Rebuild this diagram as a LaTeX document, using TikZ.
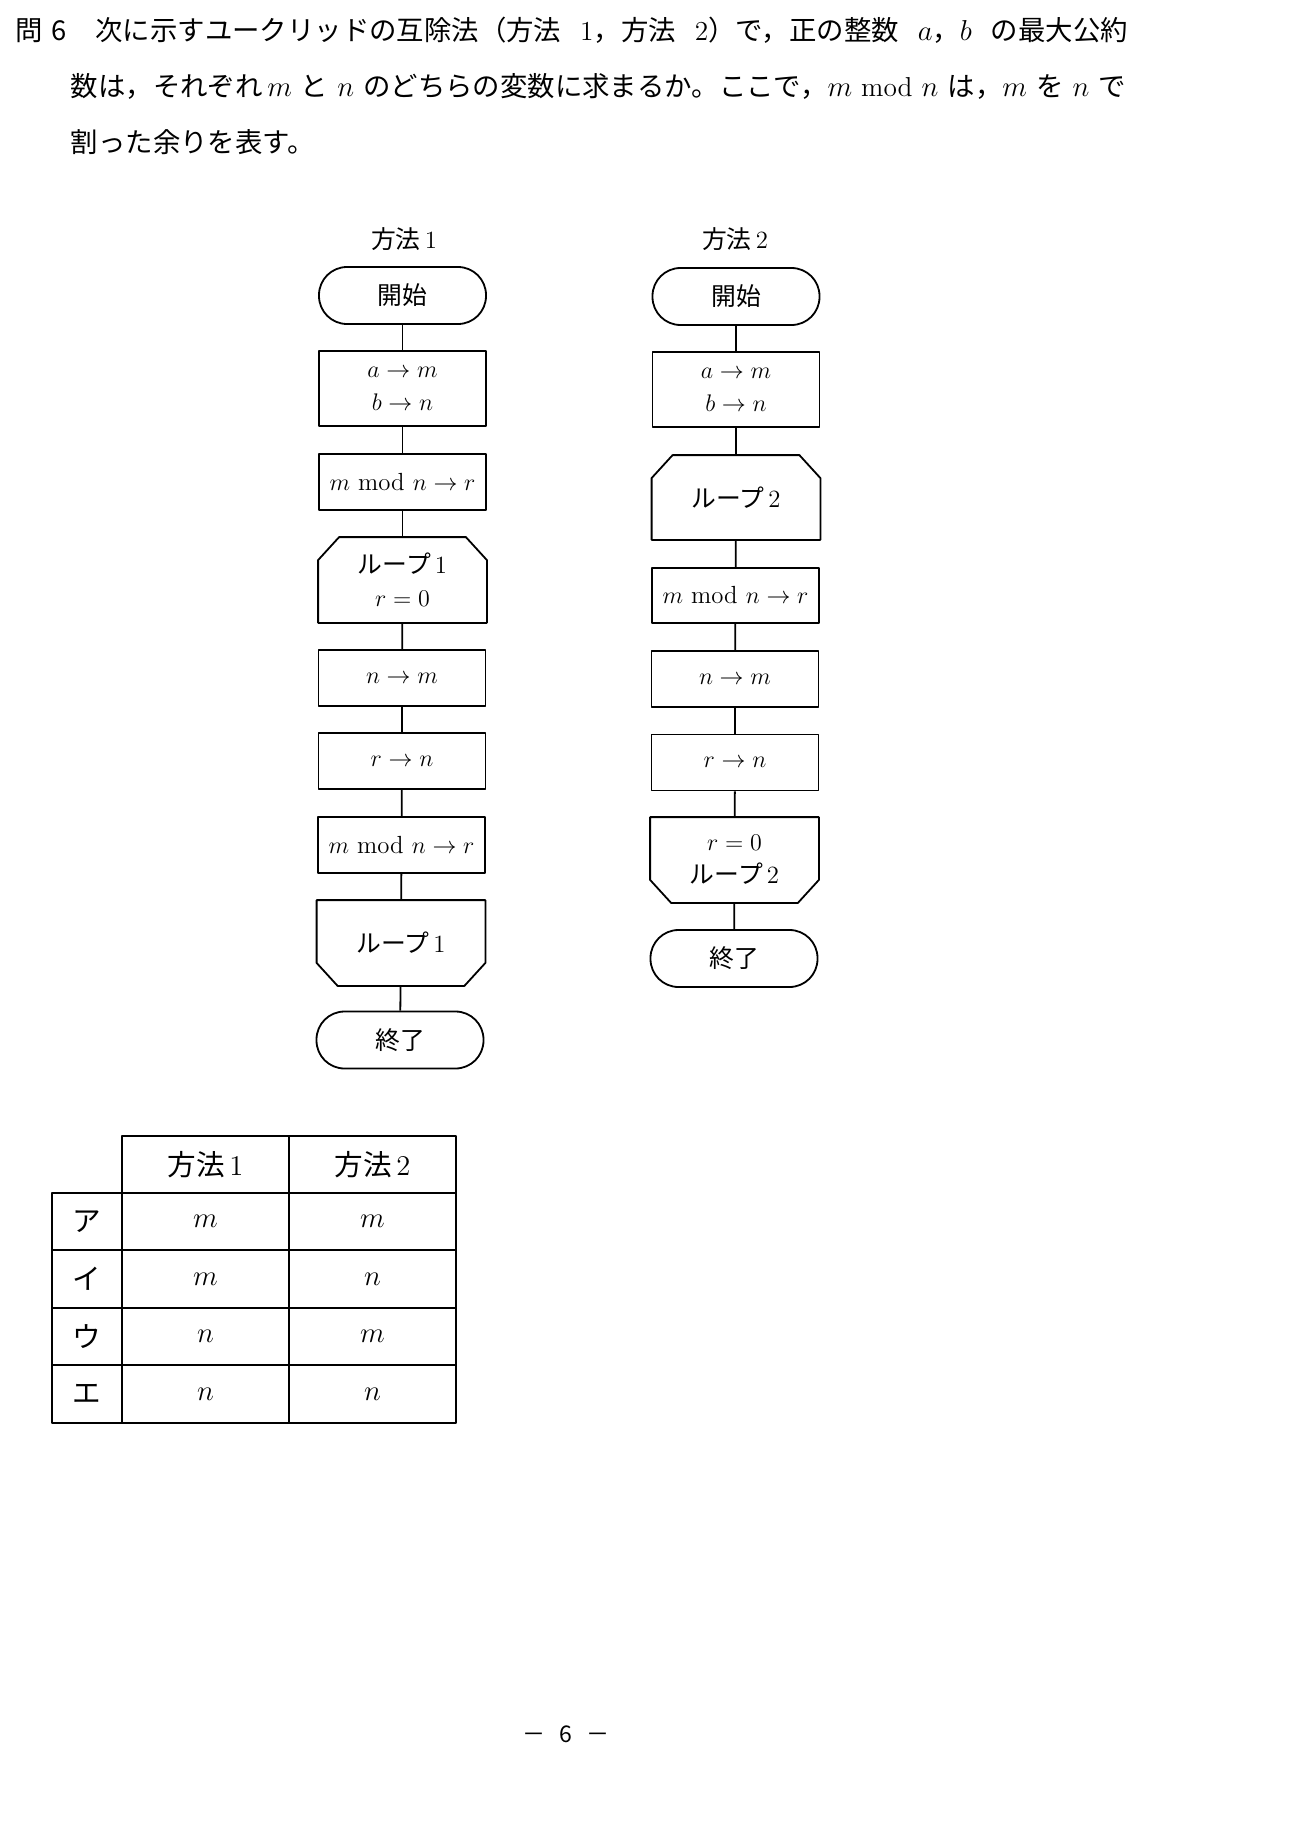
\documentclass[tikz,border=0pt]{standalone}
\usepackage{fontspec}
\newfontfamily\jp{Noto Sans CJK JP}
\newcommand{\fcsize}{\fontsize{12.4}{16.5}\selectfont}
\newcommand{\looptop}[1]{\draw ([xshift=10.5pt]#1.north west)--([xshift=-10.5pt]#1.north east)--([yshift=-11.5pt]#1.north east)--(#1.south east)--(#1.south west)--([yshift=-11.5pt]#1.north west)--cycle;}
\newcommand{\loopend}[1]{\draw (#1.north west)--(#1.north east)--([yshift=11.5pt]#1.south east)--([xshift=-10.5pt]#1.south east)--([xshift=10.5pt]#1.south west)--([yshift=11.5pt]#1.south west)--cycle;}
\begin{document}
\begin{tikzpicture}[x=0.5pt, y=-0.5pt, line join=round, line width=0.9pt,
	term/.style={draw, rounded corners=14pt, minimum width=83.5pt, minimum height=28.5pt, inner sep=0pt, font=\fcsize},
	proc/.style={draw, minimum width=83.5pt, minimum height=28pt, inner sep=0pt, align=center, font=\fcsize},
	loopbox/.style={minimum width=83.5pt, minimum height=42pt, inner sep=0pt, align=center, font=\fcsize},
	cell/.style={inner sep=0pt, font=\fontsize{14.3}{16}\selectfont}]
	\useasboundingbox (0,0) rectangle (1290,1841);
	\node[anchor=west, inner sep=0pt, font=\fontsize{13.7}{16}\selectfont] (txt1) at (15,30) {\makebox[556pt][s]{{\jp 問\hspace{0.3em}6}\hspace{1.05em}{\jp 次に示すユークリッドの互除法（方法} 1{\jp ，方法} 2{\jp ）で，正の整数} $a${\jp ，}$b$ {\jp の最大公約}}};
	\node[anchor=west, inner sep=0pt, font=\fontsize{13.7}{16}\selectfont] (txt2) at (70,86) {\makebox[527.5pt][s]{{\jp 数は，それぞれ}\,$m$ {\jp と} $n$ {\jp のどちらの変数に求まるか。ここで，}$m$ mod $n$ {\jp は，}$m$ {\jp を} $n$ {\jp で}}};
	\node[anchor=west, inner sep=0pt, font=\fontsize{13.7}{16}\selectfont] (txt3) at (70,142) {\jp 割った余りを表す。};
	% method 1
	\node[font=\fcsize] (head1) at (404,239.5) {{\jp 方法}\,1};
	\node[term] (start1) at (402.5,295.5) {\jp 開始};
	\node[proc, minimum height=37.5pt] (init1) at (402.5,388.5) {$a\rightarrow m$\\$b\rightarrow n$};
	\node[proc] (mod1) at (402.5,482) {$m$ mod $n\rightarrow r$};
	\node[loopbox] (loop1) at (402.5,580) {{\jp ループ}\,1\\$r=0$};
	\node[proc] (nm1) at (402,678) {$n\rightarrow m$};
	\node[proc] (rn1) at (402,761) {$r\rightarrow n$};
	\node[proc] (modb1) at (401.5,845) {$m$ mod $n\rightarrow r$};
	\node[loopbox] (loopend1) at (401,943) {{\jp ループ}\,1};
	\node[term] (end1) at (400,1040) {\jp 終了};
	\looptop{loop1}
	\loopend{loopend1}
	\foreach \a/\b in {start1/init1,init1/mod1,mod1/loop1,loop1/nm1,nm1/rn1,rn1/modb1,modb1/loopend1,loopend1/end1}
		\draw (\a)--(\b);
	% method 2
	\node[font=\fcsize] (head2) at (735,239.5) {{\jp 方法}\,2};
	\node[term] (start2) at (736,296.5) {\jp 開始};
	\node[proc, minimum height=37.5pt] (init2) at (736,389.5) {$a\rightarrow m$\\$b\rightarrow n$};
	\node[loopbox, minimum height=41.5pt] (loop2) at (736,497.5) {{\jp ループ}\,2};
	\node[proc, minimum height=27.5pt] (mod2) at (735.5,595.5) {$m$ mod $n\rightarrow r$};
	\node[proc] (nm2) at (735,679) {$n\rightarrow m$};
	\node[proc] (rn2) at (735,762.5) {$r\rightarrow n$};
	\node[loopbox] (loopend2) at (734.5,860) {$r=0$\\{\jp ループ}\,2};
	\node[term] (end2) at (734,958.5) {\jp 終了};
	\looptop{loop2}
	\loopend{loopend2}
	\foreach \a/\b in {start2/init2,init2/loop2,loop2/mod2,mod2/nm2,nm2/rn2,rn2/loopend2,loopend2/end2}
		\draw (\a)--(\b);
	% table
	\draw[line width=0.8pt] (122,1136) rectangle (456,1423);
	\draw[line width=0.8pt] (52,1193) rectangle (122,1423);
	\draw[line width=0.8pt] (289,1136)--(289,1423);
	\foreach \y in {1193,1250,1308,1365}
		\draw[line width=0.8pt] (52,\y)--(456,\y);
	\node[cell] (col1) at (205.5,1164.5) {{\jp 方法}\,1};
	\node[cell] (col2) at (372.5,1164.5) {{\jp 方法}\,2};
	\foreach \k/\y/\s/\p/\q in {1/1221.5/ア/m/m,2/1279/イ/m/n,3/1336.5/ウ/n/m,4/1394/エ/n/n}{
		\node[cell] (row\k) at (87,\y) {\jp \s};
		\node[cell] (ans\k a) at (205.5,\y) {$\p$};
		\node[cell] (ans\k b) at (372.5,\y) {$\q$};
	}
	\node[font=\fontsize{11.5}{14}\selectfont] (page) at (566,1734) {{\jp －}\hspace{0.6em}{\jp 6}\hspace{0.6em}{\jp －}};
\end{tikzpicture}
\end{document}
